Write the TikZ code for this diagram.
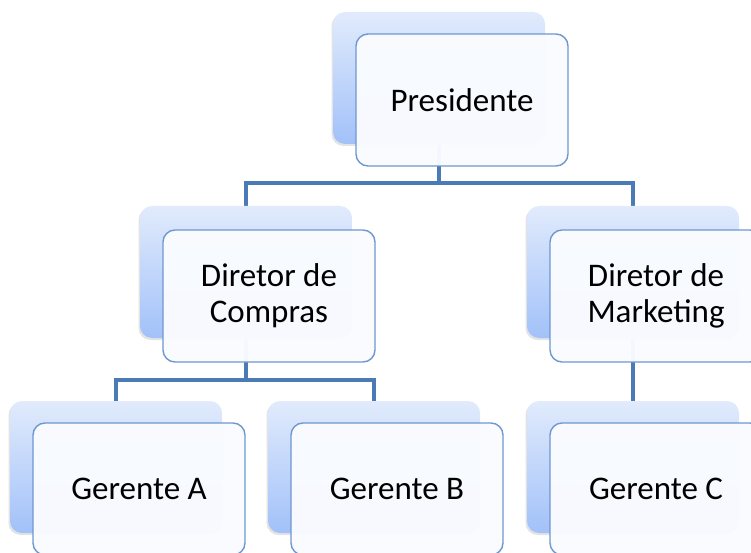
\documentclass[tikz,border=0pt]{standalone}
\usepackage{fontspec}
\setmainfont{Carlito}
\usetikzlibrary{shadows,backgrounds}

\definecolor{linkblue}{HTML}{4A7BB7}
\definecolor{edgeblue}{HTML}{6F97D0}
\definecolor{backtop}{HTML}{E1EBFC}
\definecolor{backbot}{HTML}{A2C1F9}
\definecolor{frontfill}{HTML}{F9FBFF}

\begin{document}
\begin{tikzpicture}[x = 1pt, y = -1pt,
  every node/.style = {shape = rectangle, rounded corners = 12pt, minimum width = 212pt, minimum height = 132pt, inner sep = 0pt},
  backbox/.style = {top color = backtop, bottom color = backbot,
    drop shadow = {shadow xshift = -1.5pt, shadow yshift = -2pt, opacity = 0.22, fill = gray}},
  frontbox/.style = {draw = edgeblue, line width = 1.4pt, fill = frontfill, fill opacity = 0.975, text opacity = 1,
    align = center, font = \fontsize{33}{36}\selectfont},
  link/.style = {draw = linkblue, line width = 4.5pt}]
  \clip (0,0) rectangle (751,553);
  % junction levels
  \coordinate (bus1) at (0,183);
  \coordinate (bus2) at (0,380);
  % back boxes
  \node[backbox] (presB) at (439,78) {};
  \node[backbox] (comprasB) at (246,272) {};
  \node[backbox] (mktB) at (633,272) {};
  \node[backbox] (gerAB) at (116,467) {};
  \node[backbox] (gerBB) at (374,467) {};
  \node[backbox] (gerCB) at (633,467) {};
  % links, behind the boxes
  \begin{scope}[on background layer]
    \draw[link] (presB.center) -- (presB.center |- bus1);
    \draw[link] (comprasB.center) -- (comprasB.center |- bus1) -- (mktB.center |- bus1) -- (mktB.center);
    \draw[link] (comprasB.center) -- (comprasB.center |- bus2);
    \draw[link] (gerAB.center) -- (gerAB.center |- bus2) -- (gerBB.center |- bus2) -- (gerBB.center);
    \draw[link] (mktB.center) -- (gerCB.center);
  \end{scope}
  % front boxes
  \node[frontbox] (pres) at ([shift = {(23,22)}] presB) {Presidente};
  \node[frontbox] (compras) at ([shift = {(23,24)}] comprasB) {Diretor de\\Compras};
  \node[frontbox] (mkt) at ([shift = {(23,24)}] mktB) {Diretor de\\Marketing};
  \node[frontbox] (gerA) at ([shift = {(23,22)}] gerAB) {Gerente A};
  \node[frontbox] (gerB) at ([shift = {(23,22)}] gerBB) {Gerente B};
  \node[frontbox] (gerC) at ([shift = {(23,22)}] gerCB) {Gerente C};
\end{tikzpicture}
\end{document}
